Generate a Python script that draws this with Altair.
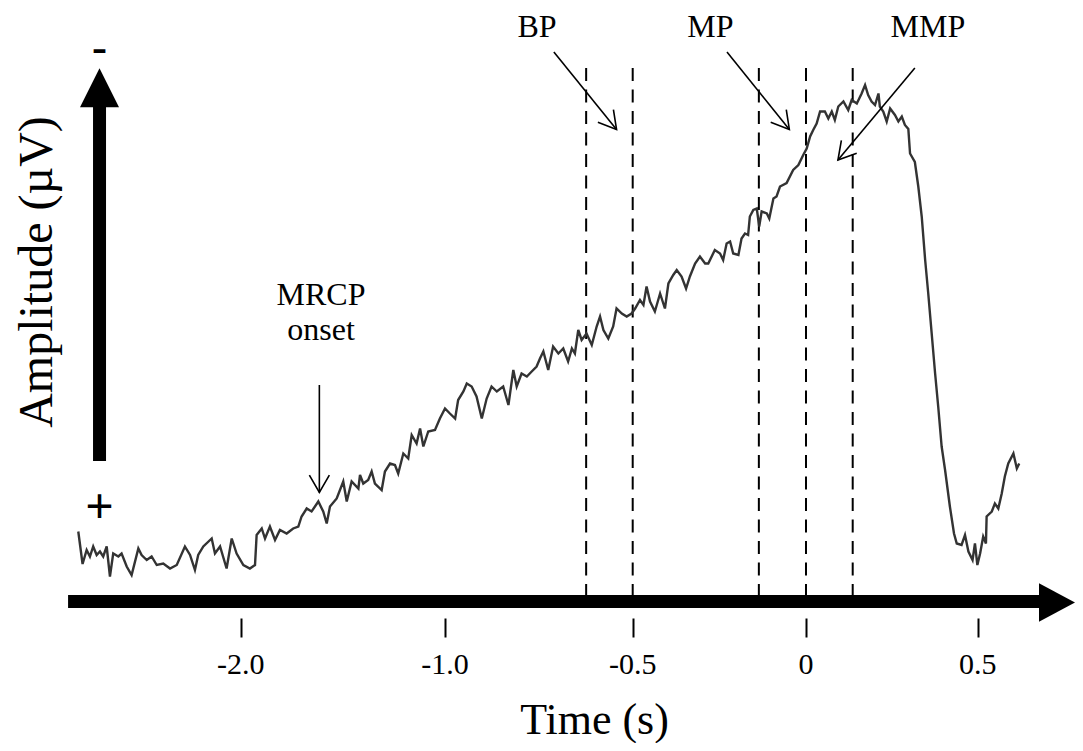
import altair as alt
import pandas as pd

# ---------------- data ----------------
# averaged trace: time (s) and amplitude (uV, negative plotted upward)
time_s = [
    -2.795, -2.774, -2.754, -2.738, -2.722, -2.705, -2.689, -2.673, -2.656, -2.640,
    -2.624, -2.599, -2.583, -2.558, -2.534, -2.501, -2.485, -2.460, -2.436, -2.411,
    -2.379, -2.346, -2.313, -2.273, -2.248, -2.224, -2.208, -2.183, -2.142, -2.126,
    -2.101, -2.069, -2.044, -2.020, -1.987, -1.955, -1.930, -1.922, -1.897, -1.881,
    -1.857, -1.832, -1.808, -1.775, -1.743, -1.718, -1.702, -1.677, -1.653, -1.620,
    -1.596, -1.579, -1.563, -1.530, -1.498, -1.481, -1.457, -1.424,
    -1.416, -1.400, -1.376, -1.359, -1.343, -1.310, -1.294, -1.269, -1.245, -1.229,
    -1.204, -1.180, -1.163, -1.139, -1.122, -1.106, -1.082, -1.049, -1.025, -1.000,
    -0.987, -0.973, -0.965, -0.951, -0.942, -0.929, -0.916, -0.902, -0.889, -0.876,
    -0.862, -0.845, -0.831, -0.818, -0.809, -0.796, -0.782, -0.769, -0.756, -0.747,
    -0.738, -0.725, -0.712, -0.698, -0.685, -0.672, -0.662, -0.654, -0.645,
    -0.636, -0.623, -0.609, -0.596, -0.587, -0.578, -0.565, -0.552, -0.543, -0.529, -0.516, -0.503,
    -0.493, -0.479, -0.469, -0.460, -0.450, -0.436, -0.421, -0.407, -0.397, -0.383,
    -0.373, -0.359, -0.346, -0.335, -0.320, -0.306, -0.291, -0.282, -0.263, -0.248,
    -0.239, -0.229, -0.219, -0.210, -0.195, -0.186, -0.176, -0.167, -0.162, -0.152,
    -0.142, -0.135, -0.128, -0.113, -0.106, -0.094, -0.085, -0.075,
    -0.056, -0.037, -0.022, -0.008,
    0.002, 0.012, 0.021, 0.031, 0.041, 0.055, 0.065, 0.075, 0.084, 0.094,
    0.109, 0.123, 0.133, 0.148, 0.162, 0.172, 0.181, 0.191, 0.201, 0.211, 0.215,
    0.225, 0.235, 0.245, 0.259, 0.269, 0.279, 0.288, 0.298, 0.303, 0.317,
    0.327, 0.337, 0.347, 0.356, 0.366, 0.376, 0.385, 0.395, 0.405, 0.419,
    0.431, 0.439, 0.453, 0.463, 0.473, 0.485, 0.492, 0.499, 0.507, 0.516,
    0.524, 0.526, 0.541, 0.550, 0.560, 0.570, 0.579, 0.589, 0.604, 0.614, 0.621,
]
amp_uv = [
    -0.47, 0.18, -0.10, 0.03, -0.17, 0.00, -0.07, 0.03, -0.17, 0.43,
    -0.03, 0.03, -0.03, 0.23, 0.40, -0.13, 0.00, 0.10, 0.03, 0.20,
    0.17, 0.27, 0.20, -0.17, 0.00, 0.30, 0.00, -0.17, -0.33, -0.03,
    -0.17, 0.27, -0.33, -0.03, 0.20, 0.27, 0.20, -0.40, -0.53, -0.33,
    -0.57, -0.30, -0.50, -0.43, -0.53, -0.57, -0.77, -0.93, -0.87, -1.07,
    -0.87, -0.63, -0.97, -1.13, -1.47, -1.07, -1.47, -1.33,
    -1.60, -1.43, -1.50, -1.67, -1.43, -1.30, -1.67, -1.83, -1.80, -1.63,
    -2.03, -1.93, -2.40, -2.23, -2.53, -2.17, -2.47, -2.50, -2.73, -2.93,
    -2.83, -2.73, -3.10, -3.27, -3.43, -3.37, -3.17, -2.73, -3.13, -3.37,
    -3.27, -3.37, -3.00, -3.70, -3.37, -3.63, -3.57, -3.67, -3.77, -3.93,
    -4.07, -3.70, -4.17, -4.03, -4.13, -3.87, -4.13, -4.03, -4.50,
    -4.30, -4.43, -4.20, -4.57, -4.77, -4.50, -4.33, -4.57, -4.93, -4.83, -4.77, -4.83,
    -4.93, -5.10, -5.00, -5.37, -5.07, -4.87, -5.23, -4.93, -5.43, -5.60,
    -5.70, -5.57, -5.33, -5.57, -5.83, -5.97, -5.83, -5.83, -6.10, -6.03,
    -5.90, -6.23, -6.27, -6.03, -6.00, -6.33, -6.43, -6.40, -6.77, -6.90,
    -6.93, -6.57, -6.87, -6.83, -6.73, -7.13, -7.17, -7.37,
    -7.44, -7.70, -7.80, -8.00,
    -8.13, -8.37, -8.50, -8.63, -8.87, -8.87, -8.73, -8.87, -8.70, -8.97,
    -9.07, -8.90, -9.10, -9.03, -9.23, -9.40, -9.20, -9.07, -9.00, -9.23, -8.97,
    -8.87, -8.67, -8.93, -8.80, -8.67, -8.77, -8.60, -8.52, -8.03, -7.86,
    -7.37, -6.77, -5.90, -5.23, -4.43, -3.63, -2.97, -2.17, -1.70, -0.97,
    -0.43, -0.23, -0.20, -0.40, -0.07, 0.10, -0.23, 0.20, -0.03, -0.37,
    -0.23, -0.77, -0.87, -1.03, -0.93, -1.23, -1.57, -1.83, -2.03, -1.73, -1.83,
]
assert len(time_s) == len(amp_uv)

# axis ticks (schematic, unevenly spaced time axis)
tick_values = [-2.0, -1.0, -0.5, 0.0, 0.5]
tick_labels = ["-2.0", "-1.0", "-0.5", "0", "0.5"]
tick_label_amp = [2.38] * 5

# dashed event markers
marker_times = [-0.624, -0.5, -0.136, 0.0, 0.136]
marker_top = [-9.74] * 5
marker_bottom = [0.80] * 5

# annotation labels
label_text = ["BP", "MP", "MMP", "MRCP", "onset"]
label_t = [-0.755, -0.276, 0.355, -1.607, -1.607]
label_amp = [-10.36, -10.36, -10.36, -5.00, -4.30]

# annotation arrows (start -> tip)
arrow_t0 = [-0.710, -0.228, 0.317, -1.615]
arrow_a0 = [-10.06, -10.06, -9.74, -3.40]
arrow_t1 = [-0.543, -0.048, 0.093, -1.615]
arrow_a1 = [-8.51, -8.51, -7.90, -1.25]
arrow_angle = [141.0, 141.1, 219.9, 180.0]

# decorative axis arrows
h_shaft_t = [-2.845]
h_shaft_t2 = [0.687]
h_shaft_amp = [0.93]
v_shaft_t = [-2.691]
v_shaft_amp = [-1.88]
v_shaft_amp2 = [-9.00]
h_head_t, h_head_amp = [0.731], [0.95]
v_head_t, v_head_amp = [-2.691], [-9.344]
sign_text = ["-", "+"]
sign_t = [-2.691, -2.691]
sign_amp = [-10.10, -0.94]
ytitle_t, ytitle_amp = [-2.924], [-5.66]

# ---------------- scales ----------------
SERIF = "Liberation Serif"
x_range_px = [232.7, 437.0, 624.7, 798.0, 969.7]
xscale = alt.Scale(domain=tick_values, range=x_range_px, nice=False, zero=False)
yscale = alt.Scale(domain=[-10.94, 1.26], reverse=True, nice=False, zero=False)

xaxis = alt.Axis(
    values=tick_values, labels=False, domain=False, grid=False,
    ticks=True, tickSize=19, tickWidth=2, tickColor="black",
    title="Time (s)", titleFont=SERIF, titleFontSize=44, titleFontWeight="normal",
    titleColor="black", titleX=586, titleY=115, titleBaseline="alphabetic",
    titleAlign="center",
)


def X(field):
    return alt.X(field, type="quantitative", scale=xscale, axis=xaxis)


def Y(field):
    return alt.Y(field, type="quantitative", scale=yscale, axis=None)


# ---------------- layers ----------------
trace_df = pd.DataFrame({"t": time_s, "amp": amp_uv})
tick_df = pd.DataFrame({"t": tick_values, "amp": tick_label_amp, "text": tick_labels})
marker_df = pd.DataFrame({"t": marker_times, "top": marker_top, "bottom": marker_bottom})
label_df = pd.DataFrame({"t": label_t, "amp": label_amp, "text": label_text})
arrow_df = pd.DataFrame({"t": arrow_t0, "a0": arrow_a0, "t1": arrow_t1,
                         "a1": arrow_a1, "angle": arrow_angle})
head_df = pd.DataFrame({"t": arrow_t1, "amp": arrow_a1, "angle": arrow_angle})
hshaft_df = pd.DataFrame({"t": h_shaft_t, "t2": h_shaft_t2, "amp": h_shaft_amp})
vshaft_df = pd.DataFrame({"t": v_shaft_t, "amp": v_shaft_amp, "amp2": v_shaft_amp2})
hhead_df = pd.DataFrame({"t": h_head_t, "amp": h_head_amp})
vhead_df = pd.DataFrame({"t": v_head_t, "amp": v_head_amp})
sign_df = pd.DataFrame({"t": sign_t, "amp": sign_amp, "text": sign_text})
ytitle_df = pd.DataFrame({"t": ytitle_t, "amp": ytitle_amp, "text": ["Amplitude (\u00b5V)"]})

markers = alt.Chart(marker_df).mark_rule(
    color="black", strokeWidth=2, strokeDash=[13, 8.5]
).encode(x=X("t"), y=Y("top"), y2="bottom")

trace = alt.Chart(trace_df).mark_line(
    color="#333333", strokeWidth=2.4, strokeJoin="miter"
).encode(x=X("t"), y=Y("amp"))

h_shaft = alt.Chart(hshaft_df).mark_rule(
    color="black", strokeWidth=13, strokeCap="butt"
).encode(x=X("t"), x2="t2", y=Y("amp"))

v_shaft = alt.Chart(vshaft_df).mark_rule(
    color="black", strokeWidth=13, strokeCap="butt"
).encode(x=X("t"), y=Y("amp"), y2="amp2")

h_head = alt.Chart(hhead_df).mark_point(
    shape="M-0.94,-1L0.94,0L-0.94,1Z", size=1475, filled=True,
    color="black", opacity=1, strokeWidth=0
).encode(x=X("t"), y=Y("amp"))

v_head = alt.Chart(vhead_df).mark_point(
    shape="M0,-1L1,1L-1,1Z", size=1521, filled=True,
    color="black", opacity=1, strokeWidth=0
).encode(x=X("t"), y=Y("amp"))

signs = alt.Chart(sign_df).mark_text(
    font="Liberation Sans", fontSize=48, color="black",
    align="center", baseline="middle"
).encode(x=X("t"), y=Y("amp"), text="text:N")

ytitle = alt.Chart(ytitle_df).mark_text(
    font=SERIF, fontSize=48, color="black", angle=270,
    align="center", baseline="alphabetic"
).encode(x=X("t"), y=Y("amp"), text="text:N")

tick_text = alt.Chart(tick_df).mark_text(
    font=SERIF, fontSize=30, color="black", align="center", baseline="alphabetic"
).encode(x=X("t"), y=Y("amp"), text="text:N")

arrow_lines = alt.Chart(arrow_df).mark_rule(
    color="black", strokeWidth=1.6
).encode(x=X("t"), y=Y("a0"), x2="t1", y2="a1")

arrow_heads = alt.Chart(head_df).mark_point(
    shape="M-0.5,0.866L0,0L0.5,0.866", size=1600, filled=False,
    color="black", opacity=1, strokeWidth=1.6
).encode(x=X("t"), y=Y("amp"), angle=alt.Angle("angle:Q", scale=None))

labels = alt.Chart(label_df).mark_text(
    font=SERIF, fontSize=32, color="black", align="center", baseline="alphabetic"
).encode(x=X("t"), y=Y("amp"), text="text:N")

chart = alt.layer(
    markers, trace, h_shaft, v_shaft, h_head, v_head, signs, ytitle, tick_text,
    arrow_lines, arrow_heads, labels
).properties(
    width=1067, height=610,
    autosize=alt.AutoSizeParams(type="none"),
    padding={"left": 0, "right": 0, "top": 0, "bottom": 125},
    background="white",
).configure_view(
    stroke=None
).configure_axis(
    titleFont=SERIF, titleFontSize=44, titleFontWeight="normal", titleColor="black",
)

chart.save("out.html", embed_options={"renderer": "svg", "actions": False})
